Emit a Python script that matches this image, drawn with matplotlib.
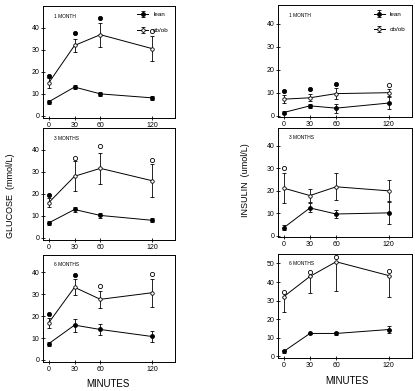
import numpy as np
import matplotlib
matplotlib.use('Agg')
import matplotlib.pyplot as plt

plt.rcParams['font.family'] = ['Liberation Sans', 'DejaVu Sans']

minutes = [0, 30, 60, 120]
panel_titles = ['1 MONTH', '3 MONTHS', '6 MONTHS']

# glucose (mmol/L), left column
glu_lean = [[6.4, 13.1, 10.0, 8.2], [6.8, 12.9, 10.2, 8.0], [7.4, 15.9, 13.9, 10.7]]
glu_lean_err = [[0.8, 1.0, 1.0, 0.9], [1.0, 1.2, 1.0, 0.9], [1.0, 3.0, 2.7, 2.5]]
glu_ob = [[15.0, 32.0, 36.9, 30.6], [16.0, 28.0, 31.6, 26.0], [17.0, 33.2, 27.7, 30.7]]
glu_ob_err = [[2.2, 2.8, 5.5, 5.8], [1.9, 6.8, 7.1, 7.5], [2.2, 3.7, 3.9, 6.4]]
glu_sig = [[18.2, 37.6, 44.3, 38.5], [19.5, 36.5, 41.8, 35.5], [21.0, 38.8, 33.6, 39.1]]
glu_sig_filled = [[1, 1, 1, 0], [1, 0, 0, 0], [1, 1, 0, 0]]

# insulin (umol/L), right column
ins_lean = [[1.4, 4.3, 3.3, 5.5], [3.6, 12.4, 9.7, 10.2], [2.6, 12.3, 12.3, 14.4]]
ins_lean_err = [[0.5, 1.0, 2.0, 2.5], [1.0, 2.0, 1.8, 5.0], [1.0, 0.5, 1.0, 1.7]]
ins_ob = [[7.2, 7.8, 9.6, 10.0], [21.2, 17.9, 21.8, 20.0], [32.1, 43.0, 50.9, 43.5]]
ins_ob_err = [[1.6, 1.5, 2.3, 1.6], [6.6, 2.8, 6.0, 4.7], [8.4, 8.8, 15.9, 11.4]]
ins_sig = [[10.8, 11.5, 13.7, 13.4], [30.3, None, None, None], [34.7, 45.6, 53.5, 46.1]]
ins_sig_filled = [[1, 1, 1, 0], [0, 0, 0, 0], [0, 0, 0, 0]]

fig = plt.figure(figsize=(4.15, 3.91), dpi=100)

left_pos = [[0.104, 0.698, 0.318, 0.287], [0.104, 0.386, 0.318, 0.287], [0.104, 0.074, 0.318, 0.274]]
right_pos = [[0.670, 0.701, 0.323, 0.286], [0.670, 0.394, 0.323, 0.279], [0.670, 0.084, 0.323, 0.266]]


def draw_panel(ax, title, lean, lean_err, ob, ob_err, sig, sig_filled, ylim, yticks,
               ob_lower_only=False, legend=False):
    ax.errorbar(minutes, lean, yerr=lean_err, color='black', lw=0.7, marker='o', ms=2.5,
                mfc='black', mec='black', capsize=1.5, elinewidth=0.6, capthick=0.6, label='lean')
    if ob_lower_only:
        yerr = [ob_err, [0] * len(ob_err)]
    else:
        yerr = ob_err
    ax.errorbar(minutes, ob, yerr=yerr, color='black', lw=0.7, marker='o', ms=2.5,
                mfc='white', mec='black', mew=0.6, capsize=1.5, elinewidth=0.6, capthick=0.6,
                label='ob/ob')
    for x, s, f in zip(minutes, sig, sig_filled):
        if s is None:
            continue
        ax.plot(x, s, 'o', ms=3, mfc='black' if f else 'white', mec='black', mew=0.6)
    ax.set_xlim(-6.5, 147)
    ax.set_ylim(*ylim)
    ax.set_xticks(minutes)
    ax.set_yticks(yticks)
    ax.tick_params(labelsize=5, length=2.5, width=0.6, direction='inout', pad=1.5)
    for sp in ax.spines.values():
        sp.set_linewidth(0.7)
    ax.text(0.08, 0.93, title, transform=ax.transAxes, fontsize=3.5, va='top')
    if legend:
        ax.legend(loc='upper right', fontsize=4.5, frameon=False, handlelength=1.8,
                  labelspacing=1.6, borderaxespad=0.6)


for i in range(3):
    ax = fig.add_axes(left_pos[i])
    ylim = (-1, 50) if i < 2 else (-1, 48)
    draw_panel(ax, panel_titles[i], glu_lean[i], glu_lean_err[i], glu_ob[i], glu_ob_err[i],
               glu_sig[i], glu_sig_filled[i], ylim, [0, 10, 20, 30, 40], legend=(i == 0))

for i in range(3):
    ax = fig.add_axes(right_pos[i])
    if i < 2:
        ylim, yt = (-0.5, 48), [0, 10, 20, 30, 40]
    else:
        ylim, yt = (-1, 55), [0, 10, 20, 30, 40, 50]
    draw_panel(ax, panel_titles[i], ins_lean[i], ins_lean_err[i], ins_ob[i], ins_ob_err[i],
               ins_sig[i], ins_sig_filled[i], ylim, yt, ob_lower_only=(i == 2), legend=(i == 0))

fig.text(0.26, 0.018, 'MINUTES', fontsize=7, ha='center', va='center')
fig.text(0.836, 0.025, 'MINUTES', fontsize=7, ha='center', va='center')
fig.text(0.025, 0.50, 'GLUCOSE  (mmol/L)', rotation=90, fontsize=6.5, va='center', ha='center')
fig.text(0.592, 0.54, 'INSULIN  (umol/L)', rotation=90, fontsize=6.5, va='center', ha='center')

fig.savefig('out.png', dpi=100)
